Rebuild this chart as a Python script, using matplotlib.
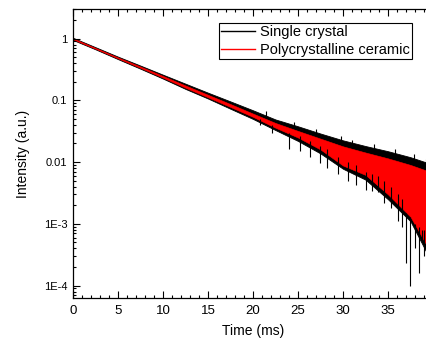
import numpy as np
import matplotlib
matplotlib.use("Agg")
import matplotlib.pyplot as plt
from matplotlib.ticker import FixedLocator, FixedFormatter, MultipleLocator

plt.rcParams['font.family'] = ['Liberation Sans', 'DejaVu Sans']

# Envelope of the noisy decay curves (time in ms)
t_env = [0, 2.5, 5, 7.5, 10, 12.5, 15, 17.5, 20, 22.5, 25, 27.5, 30, 32.5, 35, 37.5, 39.5]

crystal_hi = [1.03, 0.725, 0.51, 0.365, 0.26, 0.186, 0.133, 0.096, 0.069, 0.049,
              0.038, 0.029, 0.0225, 0.0182, 0.0150, 0.0120, 0.0096]
crystal_lo = [0.95, 0.67, 0.465, 0.325, 0.225, 0.153, 0.107, 0.073, 0.050, 0.033,
              0.022, 0.0138, 0.0078, 0.0052, 0.0025, 0.0011, 0.0003]

ceramic_hi = [1.01, 0.705, 0.495, 0.352, 0.248, 0.174, 0.123, 0.087, 0.061, 0.043,
              0.032, 0.024, 0.018, 0.0143, 0.0115, 0.0090, 0.0071]
ceramic_lo = [0.97, 0.685, 0.478, 0.335, 0.233, 0.16, 0.112, 0.078, 0.054, 0.036,
              0.025, 0.016, 0.0088, 0.0062, 0.003, 0.0013, 0.0004]

# deep downward spikes of the single crystal trace
spike_t = [20.8, 22.1, 24.0, 25.2, 26.3, 27.4, 28.2, 29.5, 30.6, 31.4, 32.6, 33.2,
           33.9, 34.6, 35.3, 36.1, 36.6, 37.0, 37.4, 38.0, 38.4, 38.8, 39.0]
spike_lo = [0.04, 0.03, 0.016, 0.015, 0.012, 0.0095, 0.008, 0.0065, 0.005, 0.0042,
            0.0035, 0.0034, 0.0033, 0.0022, 0.0018, 0.0011, 0.0009, 2.3e-4, 1.0e-4,
            4e-4, 1.6e-4, 5e-4, 3e-4]
spike_hi = [0.05, 0.04, 0.03, 0.026, 0.022, 0.018, 0.016, 0.012, 0.01, 0.009,
            0.007, 0.0065, 0.006, 0.005, 0.004, 0.003, 0.0025, 0.0015, 0.0013,
            0.001, 0.0009, 0.0008, 0.0008]

# upward spikes above the crystal band
up_t = [21.5, 24.6, 27.0, 29.8, 31.0, 33.5, 35.8, 37.9, 39.2]
up_lo = [0.055, 0.035, 0.027, 0.021, 0.019, 0.016, 0.013, 0.011, 0.009]
up_hi = [0.066, 0.044, 0.034, 0.026, 0.023, 0.0195, 0.016, 0.0135, 0.0112]

x_ticks = [0, 5, 10, 15, 20, 25, 30, 35]
y_ticks = [1e-4, 1e-3, 1e-2, 1e-1, 1]
y_labels = ['1E-4', '1E-3', '0.01', '0.1', '1']

fig = plt.figure(figsize=(4.27, 3.43), dpi=100)
ax = fig.add_axes([0.171, 0.130, 0.843, 0.8434])

# Single crystal (black) underneath, ceramic (red) on top
ax.fill_between(t_env, crystal_lo, crystal_hi, color='black', lw=0.6, edgecolor='black')
ax.vlines(spike_t, spike_lo, spike_hi, color='black', lw=0.8)
ax.vlines(up_t, up_lo, up_hi, color='black', lw=0.8)
ax.fill_between(t_env, ceramic_lo, ceramic_hi, color='red', lw=0.4, edgecolor='red')

# legend proxies
ax.plot([], [], color='black', lw=1, label='Single crystal')
ax.plot([], [], color='red', lw=1, label='Polycrystalline ceramic')

ax.set_yscale('log')
ax.set_xlim(0, 40)
ax.set_ylim(6.2e-5, 3)

ax.xaxis.set_major_locator(FixedLocator(x_ticks + [40]))
ax.xaxis.set_major_formatter(FixedFormatter([str(v) for v in x_ticks] + ['']))
ax.xaxis.set_minor_locator(MultipleLocator(1))
ax.yaxis.set_major_locator(FixedLocator(y_ticks))
ax.yaxis.set_major_formatter(FixedFormatter(y_labels))

ax.tick_params(which='both', direction='in', top=True, right=True, width=0.8)
ax.tick_params(which='major', length=5)
ax.tick_params(which='minor', length=2.5)
ax.tick_params(axis='x', labelsize=9.5, pad=5)
ax.tick_params(axis='y', labelsize=8, pad=4)
for s in ax.spines.values():
    s.set_linewidth(0.9)

ax.set_xlabel('Time (ms)', fontsize=10, labelpad=5)
ax.set_ylabel('Intensity (a.u.)', fontsize=10, labelpad=10)

leg = ax.legend(loc='upper right', bbox_to_anchor=(0.942, 0.952), borderaxespad=0,
                fontsize=10.5, frameon=True, fancybox=False, framealpha=1,
                edgecolor='black', handlelength=2.3, handletextpad=0.35,
                borderpad=0.15, labelspacing=0.25)
leg.get_frame().set_linewidth(0.8)

fig.savefig('out.png', dpi=100)
